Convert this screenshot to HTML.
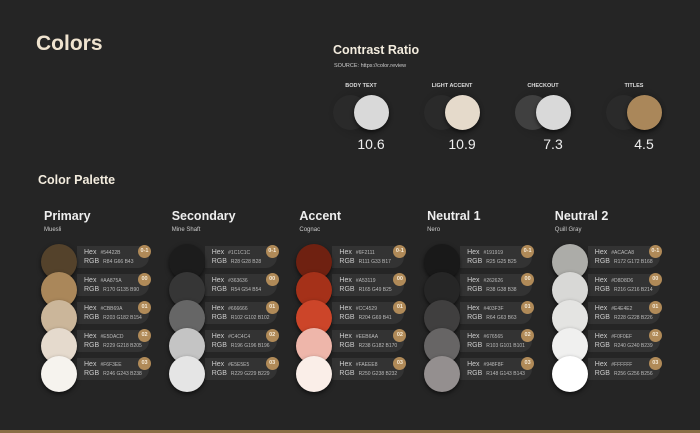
<!DOCTYPE html>
<html><head><meta charset="utf-8"><style>
html,body{margin:0;padding:0}
body{width:700px;height:433px;background:#252525;position:relative;overflow:hidden;font-family:"Liberation Sans",sans-serif;color:#ddd}
.a{position:absolute}
.circ{position:absolute;border-radius:50%;box-shadow:0 2px 4px rgba(0,0,0,.6)}
.pill{position:absolute;background:#333;border-radius:0 11px 11px 0;height:22px;width:72px}
.lbl{position:absolute;font-size:7px;color:#ccc;white-space:nowrap}
.val{font-size:5px;color:#bbb;margin-left:4px}
.badge{position:absolute;width:13px;height:13px;border-radius:50%;background:#b08a58;color:#f5ead8;font-size:5.5px;font-weight:bold;text-align:center;line-height:13px}
.glow{position:absolute;width:70px;height:60px;border-radius:50%;background:radial-gradient(rgba(0,0,0,.25),rgba(0,0,0,0) 70%)}
</style></head><body>
<div class="a" style="left:36px;top:32px;font-size:21px;font-weight:bold;color:#efe3cf">Colors</div>
<div class="a" style="left:333px;top:43px;font-size:12.5px;font-weight:bold;color:#f3ecde">Contrast Ratio</div>
<div class="a" style="left:334px;top:63px;font-size:5.5px;color:#ccc">SOURCE: https://color.review</div>
<div class="a" style="left:38px;top:173px;font-size:12.5px;font-weight:bold;color:#f3ecde">Color Palette</div>
<div id="root"></div>
<div class="a" style="left:0;top:430px;width:700px;height:3px;background:#8a6e45"></div>
<script>
const contrastLabels=["BODY TEXT","LIGHT ACCENT","CHECKOUT","TITLES"];
const contrastBg=["#2a2a2a","#2a2a2a","#404040","#2a2a2a"];
const contrastFg=["#d9d9d9","#e5dacb","#d9d9d9","#aa875a"];
const contrastValues=["10.6","10.9","7.3","4.5"];
const groupNames=["Primary","Secondary","Accent","Neutral 1","Neutral 2"];
const groupSubs=["Muesli","Mine Shaft","Cognac","Nero","Quill Gray"];
const levels=["0-1","00","01","02","03"];
const hexes=[
["#54422B","#AA875A","#CBB69A","#E5DACD","#F6F3EE"],
["#1C1C1C","#363636","#666666","#C4C4C4","#E5E5E5"],
["#6F2111","#A53119","#CC4529","#EEB6AA","#FAEEE8"],
["#191919","#262626","#403F3F","#676565","#948F8F"],
["#ACACA8","#D8D8D6","#E4E4E2","#F0F0EF","#FFFFFF"]];
const rgbs=[
["R84 G66 B43","R170 G135 B90","R203 G182 B154","R229 G218 B205","R246 G243 B238"],
["R28 G28 B28","R54 G54 B54","R102 G102 B102","R196 G196 B196","R229 G229 B229"],
["R111 G33 B17","R165 G49 B25","R204 G69 B41","R238 G182 B170","R250 G238 B232"],
["R25 G25 B25","R38 G38 B38","R64 G63 B63","R103 G101 B101","R148 G143 B143"],
["R172 G172 B168","R216 G216 B214","R228 G228 B226","R240 G240 B239","R256 G256 B256"]];
const root=document.getElementById('root');
function mk(cls,style,name,txt){const e=document.createElement('div');e.className=cls;e.style.cssText=style;


if(txt!=null)e.innerHTML=txt;root.appendChild(e);return e;}
contrastLabels.forEach((l,i)=>{const cx=361+i*91;
mk('glow',`left:${cx-35}px;top:83px`,'contrast-shadow');
mk('a',`left:${cx-40}px;top:83px;width:80px;text-align:center;font-size:5.5px;font-weight:bold;color:#ddd`,'contrast-label',l);
mk('circ',`left:${cx-28}px;top:95px;width:35px;height:35px;background:${contrastBg[i]};box-shadow:none`,'contrast-bg-swatch');
mk('circ',`left:${cx-7}px;top:95px;width:35px;height:35px;background:${contrastFg[i]}`,'contrast-fg-swatch');
mk('a',`left:${cx-30}px;top:136px;width:80px;text-align:center;font-size:14px;color:#eee`,'contrast-value',contrastValues[i]);
});
groupNames.forEach((g,gi)=>{const x0=44+gi*127.7;
mk('a',`left:${x0}px;top:209px;font-size:12.5px;font-weight:bold;color:#eee`,'group-title',g);
mk('a',`left:${x0}px;top:227px;font-size:6px;color:#ccc`,'group-subtitle',groupSubs[gi]);
levels.forEach((lv,r)=>{const y=246+r*28;
mk('pill',`left:${x0+33}px;top:${y}px`,'swatch-info');
mk('lbl',`left:${x0+40}px;top:${y+3}px`,'hex-label',`Hex<span class="val">${hexes[gi][r]}</span>`);
mk('lbl',`left:${x0+40}px;top:${y+12}px`,'rgb-label',`RGB<span class="val">${rgbs[gi][r]}</span>`);
mk('badge',`left:${x0+94}px;top:${y-1}px`,'level-badge',lv);
});
levels.forEach((lv,r)=>{const y=246+r*28;
mk('circ',`left:${x0-3}px;top:${y-2}px;width:36px;height:36px;background:${hexes[gi][r]}`,'color-swatch');
});
});
</script>
</body></html>
